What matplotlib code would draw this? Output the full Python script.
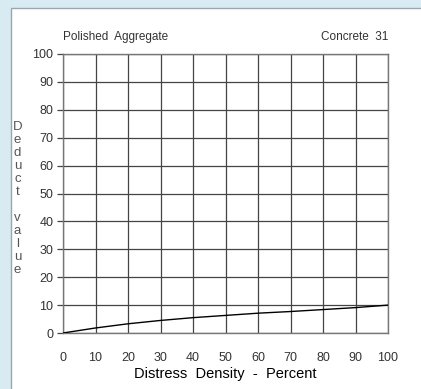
import matplotlib
matplotlib.use("Agg")
import matplotlib.pyplot as plt
from matplotlib.patches import Rectangle

# distress density (%) vs deduct value
density = [0, 10, 20, 30, 40, 50, 60, 70, 80, 90, 100]
deduct = [0, 1.8, 3.3, 4.5, 5.5, 6.3, 7.1, 7.7, 8.4, 9.1, 10]
ticks = list(range(0, 101, 10))
ylabel_letters = ["D", "e", "d", "u", "c", "t", "", "v", "a", "l", "u", "e"]

plt.rcParams['font.family'] = ['Liberation Sans', 'DejaVu Sans']

W, H = 421, 389
fig = plt.figure(figsize=(W / 100, H / 100), dpi=100)
fig.patch.set_facecolor('#d9ebf2')

# white panel with a thin border
panel = Rectangle((10.5 / W, -0.05), 1.0, 1.05 - 7.5 / H,
                  transform=fig.transFigure, facecolor='white',
                  edgecolor='#9aa8ae', linewidth=1, zorder=-5)
fig.patches.append(panel)

x0, x1 = 63, 388
y_top, y_bot = 54, 333
ax = fig.add_axes([x0 / W, 1 - y_bot / H, (x1 - x0) / W, (y_bot - y_top) / H])
ax.set_zorder(2)
ax.set_facecolor('none')

ax.plot(density, deduct, color='black', linewidth=1.0, zorder=3)

ax.set_xlim(0, 100)
ax.set_ylim(0, 100)
ax.set_xticks(ticks)
ax.set_yticks(ticks)
ax.grid(True, color='#444444', linewidth=0.9)
for s in ax.spines.values():
    s.set_color('#777777')
    s.set_linewidth(1.0)
ax.tick_params(axis='x', length=0, pad=14, labelsize=9, labelcolor='#333333')
ax.tick_params(axis='y', length=4, width=0.9, color='#444444', pad=3,
               labelsize=9, labelcolor='#333333')

ax.set_xlabel('Distress  Density  -  Percent', fontsize=10.5, labelpad=2,
              color='black')

fig.text(x0 / W, 1 - 37 / H, 'Polished  Aggregate', fontsize=8.5,
         color='#333333', ha='left', va='center')
fig.text(x1 / W, 1 - 37 / H, 'Concrete  31', fontsize=8.5,
         color='#333333', ha='right', va='center')

# vertical stacked y label
y = 127
for ch in ylabel_letters:
    if ch:
        fig.text(17.5 / W, 1 - y / H, ch, fontsize=9.5, color='#555555',
                 ha='center', va='center')
    y += 13

fig.savefig('out.png', dpi=100, facecolor=fig.get_facecolor())
